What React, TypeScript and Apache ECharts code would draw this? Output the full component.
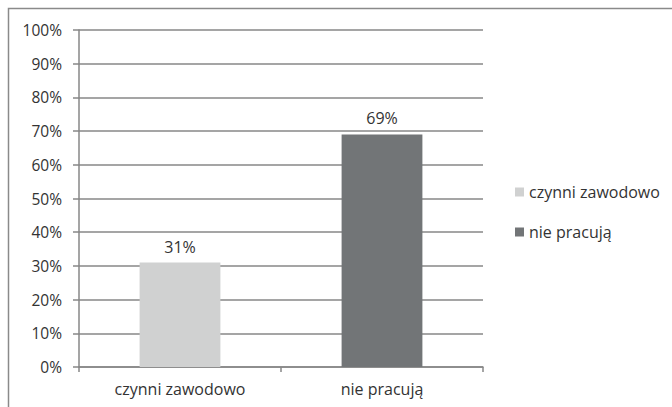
import React, { useEffect, useRef } from "react";
import * as echarts from "echarts";

const categories = ["czynni zawodowo", "nie pracują"];
const seriesNames = ["czynni zawodowo", "nie pracują"];
const seriesValues: (number | string)[][] = [
  [31, "-"],
  ["-", 69],
];
const seriesColors = ["#d0d1d1", "#727577"];
const yTicks = [0, 10, 20, 30, 40, 50, 60, 70, 80, 90, 100];

const FONT = "'Open Sans', 'Noto Sans', sans-serif";
const TEXT = "#333333";
const LINE = "#878787";

export default function App() {
  const ref = useRef<HTMLDivElement>(null);

  useEffect(() => {
    if (!ref.current) return;
    const chart = echarts.init(ref.current, undefined, { renderer: "svg" });
    chart.setOption({
      animation: false,
      backgroundColor: "#ffffff",
      textStyle: { fontFamily: FONT },
      graphic: [
        {
          type: "rect",
          shape: { x: 8.5, y: 8.5, width: 700, height: 500 },
          style: { fill: "none", stroke: "#8a8a8a", lineWidth: 1.5 },
          silent: true,
        },
      ],
      grid: { left: 79, right: 189, top: 30, bottom: 40, containLabel: false },
      legend: {
        orient: "vertical",
        left: 510,
        top: 179,
        itemWidth: 9,
        itemHeight: 9,
        itemGap: 24,
        icon: "rect",
        textStyle: { color: TEXT, fontSize: 16, fontFamily: FONT },
        data: seriesNames,
      },
      xAxis: {
        type: "category",
        data: categories,
        axisLine: { lineStyle: { color: LINE, width: 1.5 } },
        axisTick: { show: true, length: 5, lineStyle: { color: LINE, width: 1.5 } },
        axisLabel: { color: TEXT, fontSize: 16, margin: 14, fontFamily: FONT },
      },
      yAxis: {
        type: "value",
        min: yTicks[0],
        max: yTicks[yTicks.length - 1],
        interval: 10,
        axisLine: { show: true, lineStyle: { color: LINE, width: 1.5 } },
        axisTick: { show: true, length: 6, lineStyle: { color: LINE, width: 1.5 } },
        axisLabel: {
          color: TEXT,
          fontSize: 15.5,
          margin: 17,
          fontFamily: FONT,
          formatter: (v: number) => `${v}%`,
        },
        splitLine: { lineStyle: { color: LINE, width: 1.5 } },
      },
      series: seriesNames.map((name, i) => ({
        name,
        type: "bar",
        stack: "total",
        barWidth: "40%",
        data: seriesValues[i],
        itemStyle: { color: seriesColors[i] },
        label: {
          show: true,
          position: "top",
          distance: 8,
          color: TEXT,
          fontSize: 16,
          fontFamily: FONT,
          formatter: (p: any) => `${p.value}%`,
        },
      })),
    });
    return () => chart.dispose();
  }, []);

  return (
    <div
      ref={ref}
      style={{ position: "fixed", left: 0, top: 0, width: 672, height: 407 }}
    />
  );
}
